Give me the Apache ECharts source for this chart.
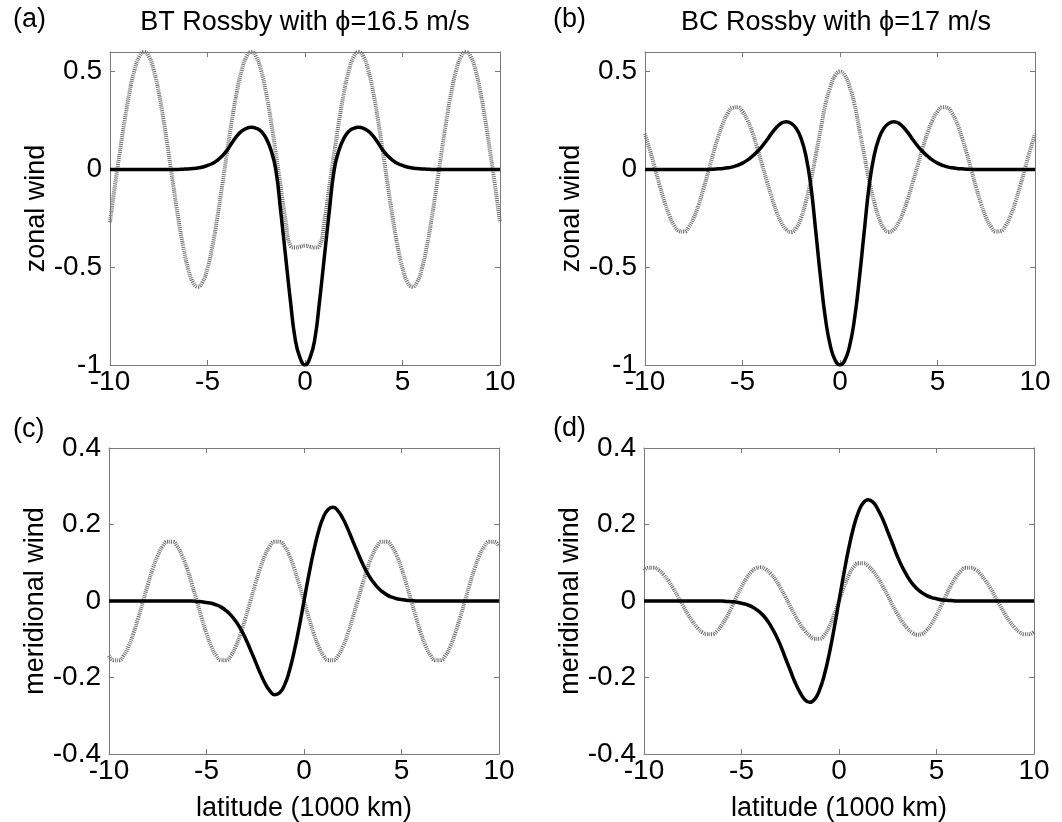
<!DOCTYPE html>
<html>
<head>
<meta charset="utf-8">
<title>Rossby wave wind profiles</title>
<script src="https://cdn.jsdelivr.net/npm/echarts@6/dist/echarts.min.js"></script>
<style>
    html, body { margin: 0; padding: 0; background: #fff; }
    #main { width: 1062px; height: 822px; }
</style>
</head>
<body>
<div id="main"></div>
<script>
// latitude in 1000 km, every 250 km
var latitude = [
    -10, -9.75, -9.5, -9.25, -9, -8.75, -8.5, -8.25, -8, -7.75,
    -7.5, -7.25, -7, -6.75, -6.5, -6.25, -6, -5.75, -5.5, -5.25,
    -5, -4.75, -4.5, -4.25, -4, -3.75, -3.5, -3.25, -3, -2.75,
    -2.5, -2.25, -2, -1.75, -1.5, -1.25, -1, -0.75, -0.5, -0.25,
    0,
    0.25, 0.5, 0.75, 1, 1.25, 1.5, 1.75, 2, 2.25, 2.5,
    2.75, 3, 3.25, 3.5, 3.75, 4, 4.25, 4.5, 4.75, 5,
    5.25, 5.5, 5.75, 6, 6.25, 6.5, 6.75, 7, 7.25, 7.5,
    7.75, 8, 8.25, 8.5, 8.75, 9, 9.25, 9.5, 9.75, 10];

// (a) BT Rossby, zonal wind
var btZonalSolid = [
    0, 0, 0, 0, 0, 0, 0, 0, 0, 0,
    0, 0, 0, 0, 0, 0.001, 0.002, 0.004, 0.007, 0.012,
    0.02, 0.03, 0.046, 0.068, 0.097, 0.135, 0.17, 0.195, 0.21, 0.215,
    0.21, 0.195, 0.16, 0.1, 0, -0.21, -0.44, -0.67, -0.87, -0.965,
    -1,
    -0.965, -0.87, -0.67, -0.44, -0.21, 0, 0.1, 0.16, 0.195, 0.21,
    0.215, 0.21, 0.195, 0.17, 0.135, 0.097, 0.068, 0.046, 0.03, 0.02,
    0.012, 0.007, 0.004, 0.002, 0.001, 0, 0, 0, 0, 0,
    0, 0, 0, 0, 0, 0, 0, 0, 0, 0];
var btZonalDotted = [
    -0.27, -0.085, 0.085, 0.249, 0.393, 0.505, 0.576, 0.6, 0.576, 0.505,
    0.393, 0.249, 0.085, -0.085, -0.249, -0.393, -0.505, -0.576, -0.6, -0.576,
    -0.505, -0.393, -0.249, -0.085, 0.085, 0.249, 0.393, 0.505, 0.576, 0.6,
    0.576, 0.505, 0.393, 0.249, 0.085, -0.085, -0.26, -0.39, -0.4, -0.395,
    -0.39,
    -0.395, -0.4, -0.39, -0.26, -0.085, 0.085, 0.249, 0.393, 0.505, 0.576,
    0.6, 0.576, 0.505, 0.393, 0.249, 0.085, -0.085, -0.249, -0.393, -0.505,
    -0.576, -0.6, -0.576, -0.505, -0.393, -0.249, -0.085, 0.085, 0.249, 0.393,
    0.505, 0.576, 0.6, 0.576, 0.505, 0.393, 0.249, 0.085, -0.085, -0.27];

// (b) BC Rossby, zonal wind
var bcZonalSolid = [
    0, 0, 0, 0, 0, 0, 0, 0, 0, 0,
    0, 0, 0, 0, 0.001, 0.003, 0.005, 0.008, 0.013, 0.021,
    0.032, 0.047, 0.067, 0.09, 0.118, 0.15, 0.185, 0.215, 0.237, 0.244,
    0.235, 0.21, 0.16, 0.07, -0.08, -0.31, -0.55, -0.76, -0.9, -0.975,
    -1,
    -0.975, -0.9, -0.76, -0.55, -0.31, -0.08, 0.07, 0.16, 0.21, 0.235,
    0.244, 0.237, 0.215, 0.185, 0.15, 0.118, 0.09, 0.067, 0.047, 0.032,
    0.021, 0.013, 0.008, 0.005, 0.003, 0.001, 0, 0, 0, 0,
    0, 0, 0, 0, 0, 0, 0, 0, 0, 0];
var bcZonalDotted = [
    0.181, 0.099, 0.009, -0.081, -0.165, -0.236, -0.287, -0.315, -0.318, -0.294,
    -0.248, -0.181, -0.099, -0.009, 0.081, 0.165, 0.236, 0.287, 0.315, 0.318,
    0.296, 0.252, 0.19, 0.112, 0.026, -0.061, -0.144, -0.217, -0.273, -0.308,
    -0.32, -0.3, -0.25, -0.165, -0.06, 0.07, 0.2, 0.33, 0.42, 0.48,
    0.5,
    0.48, 0.42, 0.33, 0.2, 0.07, -0.06, -0.165, -0.25, -0.3, -0.32,
    -0.308, -0.273, -0.217, -0.144, -0.061, 0.026, 0.112, 0.19, 0.252, 0.296,
    0.318, 0.315, 0.287, 0.236, 0.165, 0.081, -0.009, -0.099, -0.181, -0.248,
    -0.294, -0.318, -0.315, -0.287, -0.236, -0.165, -0.081, 0.009, 0.099, 0.181];

// (c) BT Rossby, meridional wind
var btMeridSolid = [
    0, 0, 0, 0, 0, 0, 0, 0, 0, 0,
    0, 0, 0, 0, 0, 0, 0, 0, -0.001, -0.002,
    -0.004, -0.006, -0.01, -0.016, -0.025, -0.037, -0.053, -0.073, -0.098, -0.127,
    -0.157, -0.188, -0.215, -0.235, -0.245, -0.24, -0.22, -0.183, -0.131, -0.069,
    0,
    0.069, 0.131, 0.183, 0.22, 0.24, 0.245, 0.235, 0.215, 0.188, 0.157,
    0.127, 0.098, 0.073, 0.053, 0.037, 0.025, 0.016, 0.01, 0.006, 0.004,
    0.002, 0.001, 0, 0, 0, 0, 0, 0, 0, 0,
    0, 0, 0, 0, 0, 0, 0, 0, 0, 0];
var btMeridDotted = [
    -0.143, -0.155, -0.155, -0.143, -0.119, -0.085, -0.044, 0, 0.044, 0.085,
    0.119, 0.143, 0.155, 0.155, 0.143, 0.119, 0.085, 0.044, 0, -0.044,
    -0.085, -0.119, -0.143, -0.155, -0.155, -0.143, -0.119, -0.085, -0.044, 0,
    0.044, 0.085, 0.119, 0.143, 0.155, 0.155, 0.143, 0.119, 0.085, 0.044,
    0,
    -0.044, -0.085, -0.119, -0.143, -0.155, -0.155, -0.143, -0.119, -0.085, -0.044,
    0, 0.044, 0.085, 0.119, 0.143, 0.155, 0.155, 0.143, 0.119, 0.085,
    0.044, 0, -0.044, -0.085, -0.119, -0.143, -0.155, -0.155, -0.143, -0.119,
    -0.085, -0.044, 0, 0.044, 0.085, 0.119, 0.143, 0.155, 0.155, 0.143];

// (d) BC Rossby, meridional wind
var bcMeridSolid = [
    0, 0, 0, 0, 0, 0, 0, 0, 0, 0,
    0, 0, 0, 0, 0, 0, 0, -0.001, -0.002, -0.003,
    -0.006, -0.009, -0.014, -0.022, -0.032, -0.046, -0.065, -0.088, -0.116, -0.149,
    -0.181, -0.213, -0.239, -0.258, -0.265, -0.257, -0.233, -0.193, -0.138, -0.072,
    0,
    0.072, 0.138, 0.193, 0.233, 0.257, 0.265, 0.258, 0.239, 0.213, 0.181,
    0.149, 0.116, 0.088, 0.065, 0.046, 0.032, 0.022, 0.014, 0.009, 0.006,
    0.003, 0.002, 0.001, 0, 0, 0, 0, 0, 0, 0,
    0, 0, 0, 0, 0, 0, 0, 0, 0, 0];
var bcMeridDotted = [
    0.08, 0.087, 0.087, 0.081, 0.069, 0.053, 0.033, 0.011, -0.012, -0.035,
    -0.054, -0.071, -0.082, -0.087, -0.087, -0.078, -0.062, -0.041, -0.016, 0.011,
    0.037, 0.059, 0.076, 0.086, 0.088, 0.083, 0.071, 0.055, 0.034, 0.011,
    -0.014, -0.038, -0.06, -0.078, -0.091, -0.099, -0.099, -0.089, -0.067, -0.036,
    0,
    0.036, 0.067, 0.089, 0.099, 0.099, 0.091, 0.078, 0.06, 0.038, 0.014,
    -0.011, -0.034, -0.055, -0.071, -0.083, -0.088, -0.086, -0.076, -0.059, -0.037,
    -0.011, 0.016, 0.041, 0.062, 0.078, 0.087, 0.087, 0.082, 0.071, 0.054,
    0.035, 0.012, -0.011, -0.033, -0.053, -0.069, -0.081, -0.087, -0.087, -0.08];

var xTicks = { min: -10, max: 10, interval: 5 };
var zonalTicks = { min: -1, max: 0.6, interval: 0.5 };
var meridTicks = { min: -0.4, max: 0.4, interval: 0.2 };

var FONT = 'Liberation Sans, Arial, Helvetica, sans-serif';
var BOX = '#7a7a7a';

function pairs(vals) {
    return latitude.map(function (x, i) { return [x, vals[i]]; });
}

// one grid gets a bottom + top x axis and a left + right y axis (matlab box)
function makeX(grid, name, top) {
    return {
        type: 'value',
        gridIndex: grid,
        position: top ? 'top' : 'bottom',
        min: xTicks.min, max: xTicks.max, interval: xTicks.interval,
        name: top ? '' : name,
        nameLocation: 'middle',
        nameGap: 41,
        nameTextStyle: { fontSize: 27, fontFamily: FONT, color: '#000' },
        axisLine: { show: true, onZero: false, lineStyle: { color: BOX, width: 1 } },
        axisTick: { show: true, inside: true, length: 5, lineStyle: { color: BOX } },
        axisLabel: { show: !top, fontSize: 28, fontFamily: FONT, color: '#000', margin: 3 },
        splitLine: { show: false }
    };
}

function makeY(grid, ticks, name, right) {
    return {
        type: 'value',
        gridIndex: grid,
        position: right ? 'right' : 'left',
        min: ticks.min, max: ticks.max, interval: ticks.interval,
        name: right ? '' : name,
        nameLocation: 'middle',
        nameRotate: 90,
        nameGap: 53,
        nameTextStyle: { fontSize: 27, fontFamily: FONT, color: '#000' },
        axisLine: { show: true, onZero: false, lineStyle: { color: BOX, width: 1 } },
        axisTick: { show: true, inside: true, length: 5, lineStyle: { color: BOX } },
        axisLabel: { show: !right, fontSize: 28, fontFamily: FONT, color: '#000', margin: 8, showMaxLabel: ticks.max === 0.4 },
        splitLine: { show: false }
    };
}

function dotted(idx, vals) {
    return {
        type: 'line', xAxisIndex: idx * 2, yAxisIndex: idx * 2,
        data: pairs(vals), smooth: true, symbol: 'none', silent: true,
        lineStyle: { color: '#6e6e6e', width: 4, type: [1, 1] }
    };
}

function solid(idx, vals) {
    return {
        type: 'line', xAxisIndex: idx * 2, yAxisIndex: idx * 2,
        data: pairs(vals), smooth: true, symbol: 'none', silent: true,
        lineStyle: { color: '#000', width: 3.5 }
    };
}

function label(text, x, y, align) {
    return {
        type: 'text', x: x, y: y,
        style: { text: text, font: '27px ' + FONT, fill: '#000', textAlign: align, textVerticalAlign: 'middle' }
    };
}

var myChart = echarts.init(document.getElementById('main'));

var option = {
    backgroundColor: '#fff',
    animation: false,
    grid: [
        { left: 110, top: 52, width: 390, height: 313, outerBoundsMode: 'none' },
        { left: 645, top: 52, width: 390, height: 313, outerBoundsMode: 'none' },
        { left: 109, top: 448, width: 390, height: 306, outerBoundsMode: 'none' },
        { left: 644, top: 448, width: 390, height: 306, outerBoundsMode: 'none' }
    ],
    xAxis: [
        makeX(0, '', false), makeX(0, '', true),
        makeX(1, '', false), makeX(1, '', true),
        makeX(2, 'latitude (1000 km)', false), makeX(2, '', true),
        makeX(3, 'latitude (1000 km)', false), makeX(3, '', true)
    ],
    yAxis: [
        makeY(0, zonalTicks, 'zonal wind', false), makeY(0, zonalTicks, '', true),
        makeY(1, zonalTicks, 'zonal wind', false), makeY(1, zonalTicks, '', true),
        makeY(2, meridTicks, 'meridional wind', false), makeY(2, meridTicks, '', true),
        makeY(3, meridTicks, 'meridional wind', false), makeY(3, meridTicks, '', true)
    ],
    series: [
        dotted(0, btZonalDotted), solid(0, btZonalSolid),
        dotted(1, bcZonalDotted), solid(1, bcZonalSolid),
        dotted(2, btMeridDotted), solid(2, btMeridSolid),
        dotted(3, bcMeridDotted), solid(3, bcMeridSolid)
    ],
    graphic: [
        label('(a)', 13, 20, 'left'),
        label('(b)', 553, 20, 'left'),
        label('(c)', 13, 430, 'left'),
        label('(d)', 553, 429, 'left'),
        label('BT Rossby with \u03d5=16.5 m/s', 305, 23, 'center'),
        label('BC Rossby with \u03d5=17 m/s', 836, 23, 'center')
    ]
};

myChart.setOption(option);
</script>
</body>
</html>
